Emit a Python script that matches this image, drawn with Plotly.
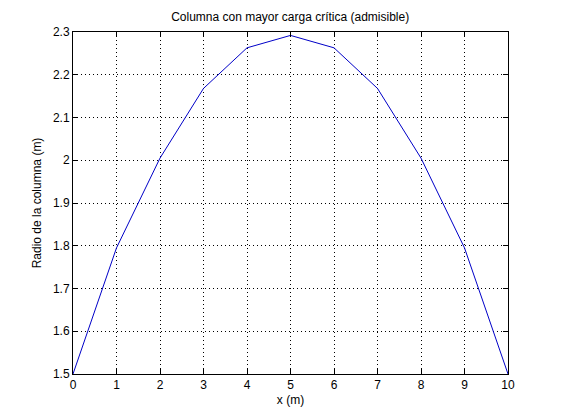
import plotly.graph_objects as go

x_vals = [0, 1, 2, 3, 4, 5, 6, 7, 8, 9, 10]
radio = [1.5, 1.795, 2.005, 2.168, 2.263, 2.292, 2.263, 2.168, 2.005, 1.795, 1.5]
x_ticks = [0, 1, 2, 3, 4, 5, 6, 7, 8, 9, 10]
y_ticks = [1.5, 1.6, 1.7, 1.8, 1.9, 2.0, 2.1, 2.2, 2.3]
y_tick_labels = ["1.5", "1.6", "1.7", "1.8", "1.9", "2", "2.1", "2.2", "2.3"]

fig = go.Figure()
fig.add_trace(go.Scatter(x=x_vals, y=radio, mode="lines",
                         line=dict(color="#0000c8", width=1), showlegend=False))

axis_common = dict(
    showline=True, linecolor="black", linewidth=1, mirror="ticks",
    ticks="inside", ticklen=5, tickcolor="black",
    showgrid=True, gridcolor="black", griddash="1px,3px", gridwidth=1,
    zeroline=False, tickfont=dict(size=12, color="black"),
)

fig.update_layout(
    width=561, height=420,
    paper_bgcolor="white", plot_bgcolor="white",
    margin=dict(l=65, r=61, t=24, b=54),
    font=dict(family="Liberation Sans, Arial, sans-serif", size=12, color="black"),
    title=dict(text="Columna con mayor carga crítica (admisible)", x=0.503, xanchor="center",
               y=0.979, yanchor="middle", font=dict(size=12)),
    xaxis=dict(range=[0, 10], tickvals=x_ticks, title=dict(text="x (m)", standoff=4, font=dict(size=12)),
               **axis_common),
    yaxis=dict(range=[1.5, 2.3], tickvals=y_ticks, ticktext=y_tick_labels,
               title=dict(text="Radio de la columna (m)", standoff=8, font=dict(size=12)),
               **axis_common),
)

fig.write_html("out.html")
